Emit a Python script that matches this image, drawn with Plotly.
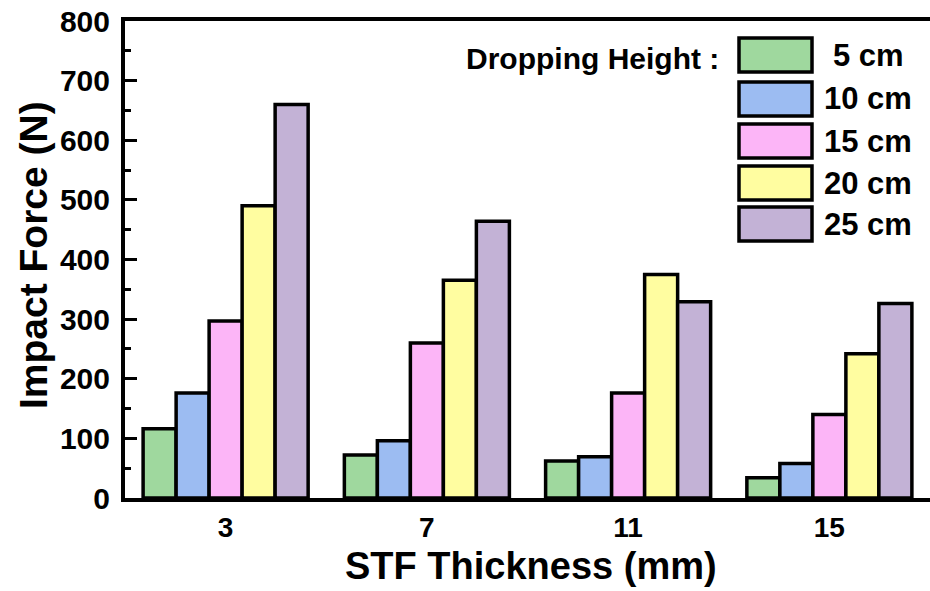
import plotly.graph_objects as go

# ---- data ----
thickness = [3, 7, 11, 15]
tick_labels = ["3", "7", "11", "15"]
series_names = ["5 cm", "10 cm", "15 cm", "20 cm", "25 cm"]
force_5cm = [116, 72, 62, 34]
force_10cm = [176, 96, 69, 58]
force_15cm = [297, 260, 176, 140]
force_20cm = [490, 365, 375, 242]
force_25cm = [660, 464, 329, 326]
colors = ["#9FD89E", "#9CBCF2", "#FCB5F7", "#FFFDA0", "#C3B2D6"]

series_values = [force_5cm, force_10cm, force_15cm, force_20cm, force_25cm]

FONT = "Liberation Sans, Arial, Helvetica, sans-serif"

W, H = 930, 591
ML, MR, MT, MB = 125, 0, 21, 93
PW, PH = W - ML - MR, H - MT - MB


def px(xp):
    return (xp - ML) / PW


def py(yp):
    return (H - MB - yp) / PH


fig = go.Figure()
for name, vals, col in zip(series_names, series_values, colors):
    fig.add_trace(go.Bar(
        x=thickness, y=vals, name=name,
        marker=dict(color=col, line=dict(color="black", width=3.5)),
        showlegend=False,
    ))

# custom legend (large boxes like the reference)
row_centers = [55, 99, 141, 183, 224]
shapes = []
annotations = []
for name, col, yc in zip(series_names, colors, row_centers):
    shapes.append(dict(
        type="rect", xref="paper", yref="paper",
        x0=px(739), x1=px(812), y0=py(yc + 17), y1=py(yc - 17),
        fillcolor=col, line=dict(color="black", width=3.5),
    ))
    annotations.append(dict(
        text=name, xref="paper", yref="paper", x=px(868), y=py(yc),
        xanchor="center", yanchor="middle", showarrow=False,
        font=dict(family=FONT, size=31, color="black", weight="bold"),
    ))
annotations.append(dict(
    text="Dropping Height :", xref="paper", yref="paper", x=px(721), y=py(58),
    xanchor="right", yanchor="middle", showarrow=False,
    font=dict(family=FONT, size=30, color="black", weight="bold"),
))
# axis titles
annotations.append(dict(
    text="Impact Force (N)", xref="paper", yref="paper", x=px(33), y=py(255),
    xanchor="center", yanchor="middle", showarrow=False, textangle=-90,
    font=dict(family=FONT, size=39, color="black", weight="bold"),
))
annotations.append(dict(
    text="STF Thickness (mm)", xref="paper", yref="paper", x=px(531), y=py(566),
    xanchor="center", yanchor="middle", showarrow=False,
    font=dict(family=FONT, size=38, color="black", weight="bold"),
))

fig.update_layout(
    width=W, height=H,
    margin=dict(l=ML, r=MR, t=MT, b=MB, pad=0),
    paper_bgcolor="white", plot_bgcolor="white",
    barmode="group", bargap=0.18, bargroupgap=0,
    shapes=shapes, annotations=annotations,
    font=dict(family=FONT, color="black"),
)
fig.update_xaxes(
    range=[1, 17], tickvals=thickness, ticktext=tick_labels,
    showline=True, linecolor="black", linewidth=4, mirror=True,
    ticks="", showgrid=False, zeroline=False,
    tickfont=dict(family=FONT, size=28, color="black", weight="bold"),
    ticklabelstandoff=1,
)
fig.update_yaxes(
    range=[0, 800], dtick=100, tick0=0,
    showline=True, linecolor="black", linewidth=4,
    ticks="inside", ticklen=12, tickwidth=3, tickcolor="black",
    minor=dict(ticks="inside", ticklen=6, tickwidth=3, tickcolor="black", dtick=50),
    showgrid=False, zeroline=False,
    tickfont=dict(family=FONT, size=30, color="black", weight="bold"),
    ticklabelstandoff=5,
)

fig.write_html("out.html")
